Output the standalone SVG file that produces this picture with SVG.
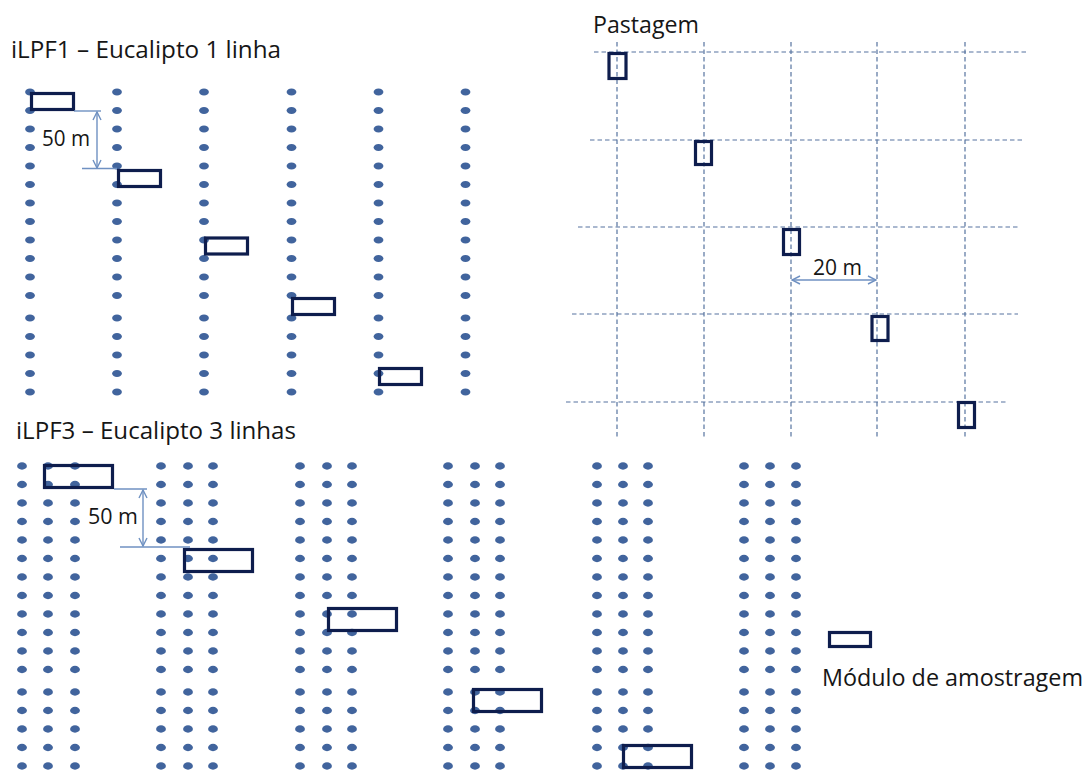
<svg xmlns="http://www.w3.org/2000/svg" xmlns:xlink="http://www.w3.org/1999/xlink" width="1092" height="771" viewBox="0 0 1092 771">
<style>
  .dot { fill: #41649d; }
  .mod { fill: none; stroke: #0e1d4d; stroke-width: 3.2; }
  .lbl { font-family: "Open Sans", "Liberation Sans", sans-serif; fill: #161616; }
  .title { font-size: 23px; }
  .dim { font-size: 21px; }
  .grid { stroke: #56739f; stroke-width: 1.2; stroke-dasharray: 4.5 3; fill: none; }
  .dimline { stroke: #6f91c2; stroke-width: 1.4; fill: none; }
</style>
<defs>
  <marker id="vhead" viewBox="0 0 10 10" refX="9" refY="5" markerWidth="10" markerHeight="10" markerUnits="userSpaceOnUse" orient="auto-start-reverse">
    <path d="M1,1 L9,5 L1,9" fill="none" stroke="#6f91c2" stroke-width="1.4"/>
  </marker>
  <g id="colA">
    <ellipse class="dot" cx="0" cy="92" rx="4.9" ry="3.5"/>
    <ellipse class="dot" cx="0" cy="110.5" rx="4.9" ry="3.5"/>
    <ellipse class="dot" cx="0" cy="129" rx="4.9" ry="3.5"/>
    <ellipse class="dot" cx="0" cy="147.5" rx="4.9" ry="3.5"/>
    <ellipse class="dot" cx="0" cy="166" rx="4.9" ry="3.5"/>
    <ellipse class="dot" cx="0" cy="184.5" rx="4.9" ry="3.5"/>
    <ellipse class="dot" cx="0" cy="203" rx="4.9" ry="3.5"/>
    <ellipse class="dot" cx="0" cy="221.5" rx="4.9" ry="3.5"/>
    <ellipse class="dot" cx="0" cy="240" rx="4.9" ry="3.5"/>
    <ellipse class="dot" cx="0" cy="258.5" rx="4.9" ry="3.5"/>
    <ellipse class="dot" cx="0" cy="277" rx="4.9" ry="3.5"/>
    <ellipse class="dot" cx="0" cy="295.5" rx="4.9" ry="3.5"/>
    <ellipse class="dot" cx="0" cy="318" rx="4.9" ry="3.5"/>
    <ellipse class="dot" cx="0" cy="336.5" rx="4.9" ry="3.5"/>
    <ellipse class="dot" cx="0" cy="355" rx="4.9" ry="3.5"/>
    <ellipse class="dot" cx="0" cy="373.5" rx="4.9" ry="3.5"/>
    <ellipse class="dot" cx="0" cy="392" rx="4.9" ry="3.5"/>
  </g>
  <g id="colB">
    <ellipse class="dot" cx="0" cy="466" rx="4.9" ry="3.7"/>
    <ellipse class="dot" cx="0" cy="484.5" rx="4.9" ry="3.7"/>
    <ellipse class="dot" cx="0" cy="503" rx="4.9" ry="3.7"/>
    <ellipse class="dot" cx="0" cy="521.5" rx="4.9" ry="3.7"/>
    <ellipse class="dot" cx="0" cy="540" rx="4.9" ry="3.7"/>
    <ellipse class="dot" cx="0" cy="558.5" rx="4.9" ry="3.7"/>
    <ellipse class="dot" cx="0" cy="577" rx="4.9" ry="3.7"/>
    <ellipse class="dot" cx="0" cy="595.5" rx="4.9" ry="3.7"/>
    <ellipse class="dot" cx="0" cy="614" rx="4.9" ry="3.7"/>
    <ellipse class="dot" cx="0" cy="632.5" rx="4.9" ry="3.7"/>
    <ellipse class="dot" cx="0" cy="651" rx="4.9" ry="3.7"/>
    <ellipse class="dot" cx="0" cy="669.5" rx="4.9" ry="3.7"/>
    <ellipse class="dot" cx="0" cy="692" rx="4.9" ry="3.7"/>
    <ellipse class="dot" cx="0" cy="710.5" rx="4.9" ry="3.7"/>
    <ellipse class="dot" cx="0" cy="729" rx="4.9" ry="3.7"/>
    <ellipse class="dot" cx="0" cy="747.5" rx="4.9" ry="3.7"/>
    <ellipse class="dot" cx="0" cy="766" rx="4.9" ry="3.7"/>
  </g>
</defs>
<rect width="1092" height="771" fill="#ffffff"/>

<g id="ilpf1">
  <text class="lbl title" x="11" y="58" textLength="270" lengthAdjust="spacingAndGlyphs">iLPF1 – Eucalipto 1 linha</text>
  <use xlink:href="#colA" x="30"/>
  <use xlink:href="#colA" x="117"/>
  <use xlink:href="#colA" x="204"/>
  <use xlink:href="#colA" x="291.5"/>
  <use xlink:href="#colA" x="378.5"/>
  <use xlink:href="#colA" x="465.5"/>
  <rect class="mod" x="31.5" y="93.5" width="42" height="16"/>
  <rect class="mod" x="118.5" y="170.5" width="42" height="16"/>
  <rect class="mod" x="205.5" y="238" width="42" height="16"/>
  <rect class="mod" x="292.5" y="298.5" width="42" height="16"/>
  <rect class="mod" x="379.5" y="368.5" width="42" height="16"/>
  <text class="lbl dim" x="42" y="146" textLength="48" lengthAdjust="spacingAndGlyphs">50 m</text>
</g>

<g id="ilpf3">
  <text class="lbl title" x="16" y="439" textLength="280" lengthAdjust="spacingAndGlyphs">iLPF3 – Eucalipto 3 linhas</text>
  <use xlink:href="#colB" x="22"/>
  <use xlink:href="#colB" x="48"/>
  <use xlink:href="#colB" x="75"/>
  <use xlink:href="#colB" x="161"/>
  <use xlink:href="#colB" x="188"/>
  <use xlink:href="#colB" x="213"/>
  <use xlink:href="#colB" x="300"/>
  <use xlink:href="#colB" x="327"/>
  <use xlink:href="#colB" x="352"/>
  <use xlink:href="#colB" x="448"/>
  <use xlink:href="#colB" x="475"/>
  <use xlink:href="#colB" x="500"/>
  <use xlink:href="#colB" x="597"/>
  <use xlink:href="#colB" x="623"/>
  <use xlink:href="#colB" x="648"/>
  <use xlink:href="#colB" x="744"/>
  <use xlink:href="#colB" x="770"/>
  <use xlink:href="#colB" x="796"/>
  <rect class="mod" x="44.5" y="465.5" width="68" height="22"/>
  <rect class="mod" x="184.5" y="549.5" width="68" height="22"/>
  <rect class="mod" x="328.5" y="608.5" width="68" height="22"/>
  <rect class="mod" x="473.5" y="689.5" width="68" height="22"/>
  <rect class="mod" x="623.5" y="745.5" width="68" height="22"/>
  <text class="lbl dim" x="88" y="524" textLength="50" lengthAdjust="spacingAndGlyphs">50 m</text>
</g>

<g id="pastagem">
  <text class="lbl title" x="593" y="33" textLength="106" lengthAdjust="spacingAndGlyphs">Pastagem</text>
  <line class="grid" x1="594" y1="52" x2="1026" y2="52"/>
  <line class="grid" x1="590" y1="140" x2="1022" y2="140"/>
  <line class="grid" x1="578" y1="227" x2="1020" y2="227"/>
  <line class="grid" x1="572" y1="314" x2="1018" y2="314"/>
  <line class="grid" x1="566" y1="402" x2="1008" y2="402"/>
  <line class="grid" x1="617" y1="42" x2="617" y2="438"/>
  <line class="grid" x1="704" y1="42" x2="704" y2="438"/>
  <line class="grid" x1="791" y1="42" x2="791" y2="438"/>
  <line class="grid" x1="877" y1="42" x2="877" y2="438"/>
  <line class="grid" x1="965" y1="42" x2="965" y2="438"/>
  <rect class="mod" x="609" y="53.5" width="17" height="25"/>
  <rect class="mod" x="695.5" y="141.5" width="16" height="23"/>
  <rect class="mod" x="783.5" y="229.5" width="16" height="25"/>
  <rect class="mod" x="872" y="316.5" width="16" height="24"/>
  <rect class="mod" x="958.5" y="402.5" width="16" height="25"/>
  <text class="lbl dim" x="813" y="275" textLength="49" lengthAdjust="spacingAndGlyphs">20 m</text>
</g>

<g id="legend">
  <rect class="mod" x="829.5" y="632.5" width="41" height="14"/>
  <text class="lbl" x="822" y="686" font-size="23" textLength="261" lengthAdjust="spacingAndGlyphs">Módulo de amostragem</text>
</g>

<g id="connectors">
  <line class="dimline" x1="74" y1="111" x2="101" y2="111"/>
  <line class="dimline" x1="82" y1="168.5" x2="117" y2="168.5"/>
  <line class="dimline" x1="97" y1="112" x2="97" y2="168" marker-start="url(#vhead)" marker-end="url(#vhead)"/>
  <line class="dimline" x1="114" y1="489" x2="147" y2="489"/>
  <line class="dimline" x1="120" y1="547" x2="190" y2="547"/>
  <line class="dimline" x1="143" y1="490" x2="143" y2="546" marker-start="url(#vhead)" marker-end="url(#vhead)"/>
  <line class="dimline" x1="792" y1="280" x2="876" y2="280" marker-start="url(#vhead)" marker-end="url(#vhead)"/>
</g>
</svg>
